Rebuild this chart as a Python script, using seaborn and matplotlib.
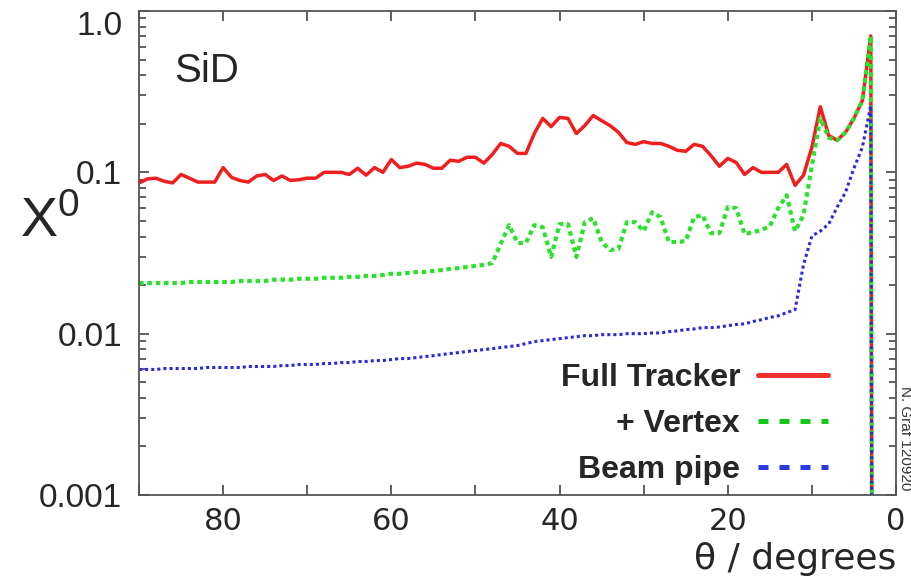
import matplotlib
matplotlib.use("Agg")
import pandas as pd
import matplotlib.pyplot as plt
from matplotlib.lines import Line2D
from matplotlib.ticker import LogLocator, NullFormatter
from matplotlib.transforms import ScaledTranslation
import seaborn as sns

# polar angle samples (degrees), one per degree, last point is the drop-off
theta = list(range(90, 2, -1)) + [2.8]

full_tracker = [
    0.086, 0.091, 0.092, 0.088, 0.086, 0.097, 0.092, 0.087, 0.087, 0.087,
    0.107, 0.093, 0.089, 0.087, 0.095, 0.097, 0.089, 0.095, 0.089, 0.090,
    0.092, 0.092, 0.100, 0.100, 0.100, 0.097, 0.106, 0.096, 0.107, 0.100,
    0.120, 0.107, 0.109, 0.114, 0.112, 0.106, 0.106, 0.119, 0.117, 0.124,
    0.124, 0.114, 0.129, 0.151, 0.145, 0.131, 0.131, 0.174, 0.216, 0.192,
    0.219, 0.216, 0.174, 0.195, 0.225, 0.209, 0.195, 0.177, 0.153, 0.149,
    0.155, 0.151, 0.151, 0.145, 0.137, 0.135, 0.149, 0.145, 0.127, 0.109,
    0.122, 0.115, 0.097, 0.107, 0.100, 0.100, 0.100, 0.112, 0.083, 0.096,
    0.143, 0.255, 0.169, 0.158, 0.177, 0.216, 0.278, 0.700, 1e-5,
]

plus_vertex = [
    0.0206, 0.0206, 0.0206, 0.0206, 0.0206, 0.0206, 0.0209, 0.0209, 0.0209, 0.0209,
    0.0209, 0.0209, 0.0212, 0.0212, 0.0212, 0.0212, 0.0216, 0.0216, 0.0216, 0.0219,
    0.0219, 0.0219, 0.0222, 0.0222, 0.0222, 0.0225, 0.0225, 0.0228, 0.0228, 0.0231,
    0.0235, 0.0235, 0.0238, 0.0241, 0.0241, 0.0245, 0.0248, 0.0252, 0.0255, 0.0259,
    0.0263, 0.0267, 0.0274, 0.0360, 0.0471, 0.0365, 0.0365, 0.0471, 0.0457, 0.0299,
    0.0478, 0.0478, 0.0299, 0.0491, 0.0520, 0.0370, 0.0330, 0.0335, 0.0491, 0.0491,
    0.0432, 0.0566, 0.0527, 0.0370, 0.0370, 0.0375, 0.0527, 0.0543, 0.0420, 0.0420,
    0.0608, 0.0600, 0.0414, 0.0426, 0.0439, 0.0464, 0.0600, 0.0721, 0.0432, 0.0543,
    0.110, 0.216, 0.164, 0.158, 0.177, 0.216, 0.278, 0.700, 1e-5,
]

beam_pipe = [
    0.00600, 0.00600, 0.00600, 0.00608, 0.00608, 0.00608, 0.00608, 0.00608, 0.00617, 0.00617,
    0.00617, 0.00617, 0.00617, 0.00626, 0.00626, 0.00626, 0.00626, 0.00634, 0.00634, 0.00644,
    0.00644, 0.00644, 0.00653, 0.00653, 0.00662, 0.00662, 0.00672, 0.00672, 0.00681, 0.00681,
    0.00691, 0.00701, 0.00701, 0.00711, 0.00721, 0.00731, 0.00742, 0.00753, 0.00764, 0.00775,
    0.00786, 0.00797, 0.00808, 0.00820, 0.00832, 0.00844, 0.00868, 0.00893, 0.00906, 0.00919,
    0.00932, 0.00945, 0.00958, 0.00972, 0.00972, 0.00986, 0.00986, 0.00986, 0.0100, 0.0100,
    0.0100, 0.0101, 0.0101, 0.0103, 0.0104, 0.0106, 0.0107, 0.0109, 0.0109, 0.0110,
    0.0112, 0.0114, 0.0115, 0.0119, 0.0122, 0.0126, 0.0129, 0.0135, 0.0141, 0.0267,
    0.0403, 0.0432, 0.0478, 0.0608, 0.0753, 0.106, 0.143, 0.259, 1e-5,
]

series_names = ["Full Tracker", "+ Vertex", "Beam pipe"]
colors = ["#f01e1e", "#2ee02e", "#2a2ad8"]
legend_colors = ["#f03030", "#18c818", "#2a3ae8"]

x_ticks = list(range(0, 91, 10))
x_ticklabels = ["0", "", "20", "", "40", "", "60", "", "80", ""]
y_ticks = [0.001, 0.01, 0.1, 1.0]
y_ticklabels = ["0.001", "0.01", "0.1", "1.0"]

df = pd.DataFrame({
    "theta": theta * 3,
    "x0": full_tracker + plus_vertex + beam_pipe,
    "layer": sum([[n] * len(theta) for n in series_names], []),
})

sns.set_style("ticks")
plt.rcParams["font.family"] = ["Liberation Sans", "DejaVu Sans"]
plt.rcParams["axes.edgecolor"] = "#555555"
plt.rcParams["axes.linewidth"] = 1.3

fig = plt.figure(figsize=(9.12, 5.77), dpi=100)
ax = fig.add_axes([139 / 912, 82 / 577, 757 / 912, 484 / 577])

styles = {
    "Full Tracker": dict(lw=2.5, linestyle="-"),
    "+ Vertex": dict(lw=3.0, linestyle=(0, (1.1, 0.9)), dash_capstyle="butt"),
    "Beam pipe": dict(lw=2.2, linestyle=(0, (1.0, 1.0)), dash_capstyle="butt"),
}
for name, col in zip(series_names, colors):
    sub = df[df["layer"] == name]
    sns.lineplot(data=sub, x="theta", y="x0", ax=ax, color=col,
                 estimator=None, sort=False, legend=False, **styles[name])

ax.set_yscale("log")
ax.set_ylim(0.001, 1.0)
ax.set_xlim(90, 0)

ax.set_xticks(x_ticks)
ax.set_xticklabels(x_ticklabels, fontfamily="DejaVu Sans", fontsize=22)
ax.set_yticks(y_ticks)
ylabels = ax.set_yticklabels(y_ticklabels, fontsize=24)
# end labels sit inside the axis range in the original
ylabels[0].set_transform(ylabels[0].get_transform()
                         + ScaledTranslation(0, 0.05, fig.dpi_scale_trans))
ylabels[-1].set_va("top")
ax.yaxis.set_minor_locator(LogLocator(base=10, subs=range(2, 10)))
ax.yaxis.set_minor_formatter(NullFormatter())
ax.tick_params(which="both", direction="in", top=True, right=True,
               color="#444444", width=1.2)
ax.tick_params(which="major", length=7)
ax.tick_params(which="minor", length=5)
ax.tick_params(axis="y", pad=12)
ax.tick_params(axis="x", pad=9)

ax.set_xlabel("θ / degrees", loc="right", fontfamily="DejaVu Sans",
              fontsize=26, labelpad=4)
ax.set_ylabel(r"$\mathregular{X^0}$", rotation=0, fontsize=40)
ax.yaxis.label.set(ha="center", va="center")
ax.yaxis.set_label_coords(-0.118, 0.562)

ax.text(0.046, 0.877, "SiD", transform=ax.transAxes, fontsize=29,
        va="center", ha="left")

handles = [
    Line2D([], [], color=legend_colors[0], lw=3.6),
    Line2D([], [], color=legend_colors[1], lw=3.6, linestyle=(0, (2, 2.2))),
    Line2D([], [], color=legend_colors[2], lw=3.6, linestyle=(0, (2, 2.2))),
]
leg = ax.legend(handles, series_names, loc="lower right",
                bbox_to_anchor=(0.91, 0.02), frameon=False, markerfirst=False,
                prop=dict(weight="bold", size=23), handlelength=2.2,
                handletextpad=0.55, labelspacing=0.5, borderpad=0,
                borderaxespad=0)
# right-align the labels inside the legend column
for col in leg._legend_handle_box.get_children():
    col.align = "right"

fig.text(0.992, 0.24, "N. Graf 120920", rotation=-90, fontsize=11,
         color="#333333", ha="center", va="center")

fig.savefig("out.png", dpi=100, facecolor="white")
